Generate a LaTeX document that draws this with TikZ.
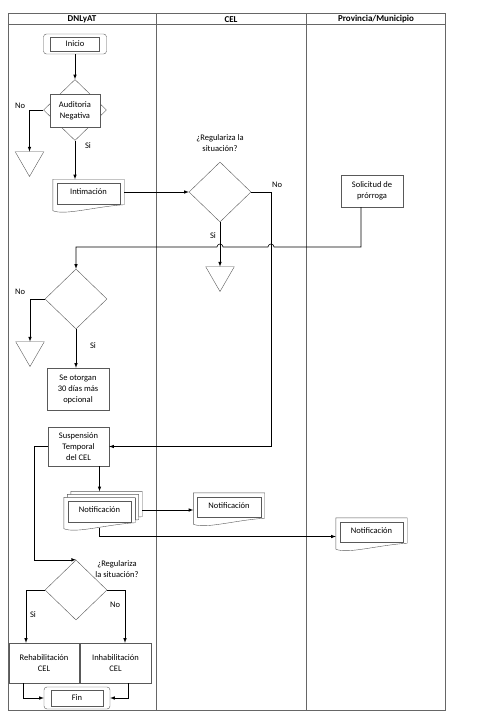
\documentclass[tikz,border=0pt]{standalone}
\usepackage{fontspec}
\setmainfont{Carlito}
\usetikzlibrary{
  shapes.geometric,
  backgrounds
}

\tikzset{
  lanes/.style={draw=gray!80!black, line width=1pt},
  head/.style={font=\fontsize{9}{10}\selectfont\bfseries},
  proc/.style={draw=gray!70!black, fill=white, align=center, inner sep=1pt},
  decis/.style={draw=gray!70!black, diamond, minimum width=62pt, minimum height=60pt, inner sep=0pt},
  merge/.style={draw=gray!70!black, regular polygon, regular polygon sides=3, shape border rotate=180, minimum size=33pt, inner sep=0pt},
  termin/.style={draw=gray!70!black, rounded corners=3pt, minimum height=20pt,
    path picture={\draw[sharp corners] ([xshift=7pt,yshift=-3pt]path picture bounding box.north west) rectangle ([xshift=-7pt,yshift=3pt]path picture bounding box.south east);}},
  docnode/.style={minimum width=71pt, minimum height=25pt, inner sep=0pt, yshift=0pt},
  tag/.style={align=center},
  conn/.style={->, >=latex, line width=0.6pt}
}

% outline of a document shape round node #1, shifted by #2
\newcommand{\docshape}[2]{%
  \draw[draw=gray!70!black, fill=white] ([shift={(#2)}]#1.south east) -- ([shift={(#2)}]#1.north east) -- ([shift={(#2)}]#1.north west) -- ([shift={(#2)},yshift=-6pt]#1.south west)
     .. controls +(12pt,-5pt) and +(-30pt,-2pt) .. ([shift={(#2)}]#1.south east) -- cycle;
  \draw[draw=gray!70!black] ([shift={(#2)},xshift=4pt,yshift=-4pt]#1.north west) rectangle ([shift={(#2)},xshift=-4pt,yshift=1pt]#1.south east);}

\begin{document}
\begin{tikzpicture}[x=1pt, y=-1pt, font=\fontsize{8.5}{11}\selectfont]
  \def\Xd{76}
  \def\Xc{220}
  \def\Yhop{247}
  \useasboundingbox (0,0) rectangle (481,722);

  % swimlanes
  \draw[lanes] (8,14) rectangle (445,710);
  \draw[lanes] (8,25) -- (445,25);
  \draw[lanes] (156,14) -- (156,710);
  \draw[lanes] (306,14) -- (306,710);
  \node[head] (hda) at (82,19.5)  {DNLyAT};
  \node[head] (hdb) at (231,19.5) {CEL};
  \node[head] (hdc) at (376,19.5) {Provincia/Municipio};

  % DNLyAT
  \node[termin, minimum width=63pt] (inicio) at (75,44) {Inicio};
  \node[decis, minimum width=63pt, minimum height=61pt] (audit) at (75,110) {};
  \node[proc, minimum width=50pt, minimum height=33pt] (auditbox) at (75,110.5) {Auditoria\\Negativa};
  \node[merge] (tria) at (29.5,160) {};
  \node[docnode] (intim) at (88.5,192) {Intimación};

  \node[decis] (decc) at (\Xd,299) {};
  \node[merge] (tric) at (30,350) {};
  \node[proc, minimum width=62pt, minimum height=42pt] (otorg) at (78,389) {Se otorgan\\30 días más\\opcional};
  \node[proc, minimum width=61pt, minimum height=39pt] (susp) at (78.5,446.5) {Suspensión\\Temporal\\del CEL};
  \node[docnode] (notifa) at (99.5,510) {Notificación};

  \node[decis] (decd) at (\Xd,590) {};
  \node[proc, minimum width=70pt, minimum height=40pt] (rehab) at (44,663) {Rehabilitación\\CEL};
  \node[proc, minimum width=71pt, minimum height=40pt] (inhab) at (115.5,663) {Inhabilitación\\CEL};
  \node[termin, minimum width=66pt, minimum height=22pt] (fin) at (77,698) {Fin};

  % CEL
  \node[decis] (decb) at (\Xc,192) {};
  \node[merge] (trib) at (\Xc,275) {};
  \node[docnode] (notifb) at (229,505.5) {Notificación};

  % Provincia/Municipio
  \node[proc, minimum width=62pt, minimum height=32pt] (solic) at (372,191) {Solicitud de\\prórroga};
  \node[docnode] (notifc) at (371.5,530.5) {Notificación};

  \begin{scope}[on background layer]
    \docshape{intim}{0pt,0pt}
    \docshape{notifa}{7pt,6pt}
    \docshape{notifa}{3.5pt,3pt}
    \docshape{notifa}{0pt,0pt}
    \docshape{notifb}{0pt,0pt}
    \docshape{notifc}{0pt,0pt}
  \end{scope}

  % labels
  \node[tag] (noa) at (20,106) {No};
  \node[tag] (sia) at (88,146) {Si};
  \node[tag] (qb)  at (\Xc,143) {¿Regulariza la\\situación?};
  \node[tag] (nob) at (277,185) {No};
  \node[tag] (sib) at (213,236) {Si};
  \node[tag] (noc) at (20,292) {No};
  \node[tag] (sic) at (93,346) {Si};
  \node[tag] (qd)  at (117,569) {¿Regulariza\\la situación?};
  \node[tag] (sid) at (33,615) {Si};
  \node[tag] (nod) at (115,605) {No};

  % connectors
  \coordinate (hopa) at (274,\Yhop);
  \coordinate (hopb) at (\Xc+3,\Yhop);
  \draw[conn] (inicio) -- (audit.north);
  \draw[conn] (audit.west) -| (tria.north);
  \draw[conn] (audit.south) -- (audit.south |- intim.north);
  \draw[conn] (intim.east) -- (decb.west);
  \draw[conn] (decb.south) -- (trib.north);
  \draw[conn] (decb.east) -- ++(20pt,0) |- (susp.east);             % No -> suspension
  \draw[conn] ([xshift=-11pt]solic.south) |- (hopa) arc (0:180:3pt) -- (hopb) arc (0:180:3pt) -| (decc.north);
  \draw[conn] (decc.west) -| (tric.north);
  \draw[conn] (decc.south) -- (decc.south |- otorg.north);
  \draw[conn] (susp.south -| notifa) -- ([yshift=6pt]notifa.north);
  \draw[conn] ([xshift=7pt]notifa.east) -- (notifa.east -| notifb.west);
  \draw[conn] ([yshift=-5pt]notifa.south) |- ([yshift=-6pt]notifc.west);
  \draw[conn] (susp.west) -- ++(-14pt,0) |- (decd.north);
  \draw[conn] (decd.west) -| ([xshift=-18pt]rehab.north);
  \draw[conn] (decd.east) -| ([xshift=9.5pt]inhab.north);
  \draw[conn] ([xshift=-21pt]rehab.south) |- (fin.west);
  \draw[conn] ([xshift=12.5pt]inhab.south) |- (fin.east);
\end{tikzpicture}
\end{document}
